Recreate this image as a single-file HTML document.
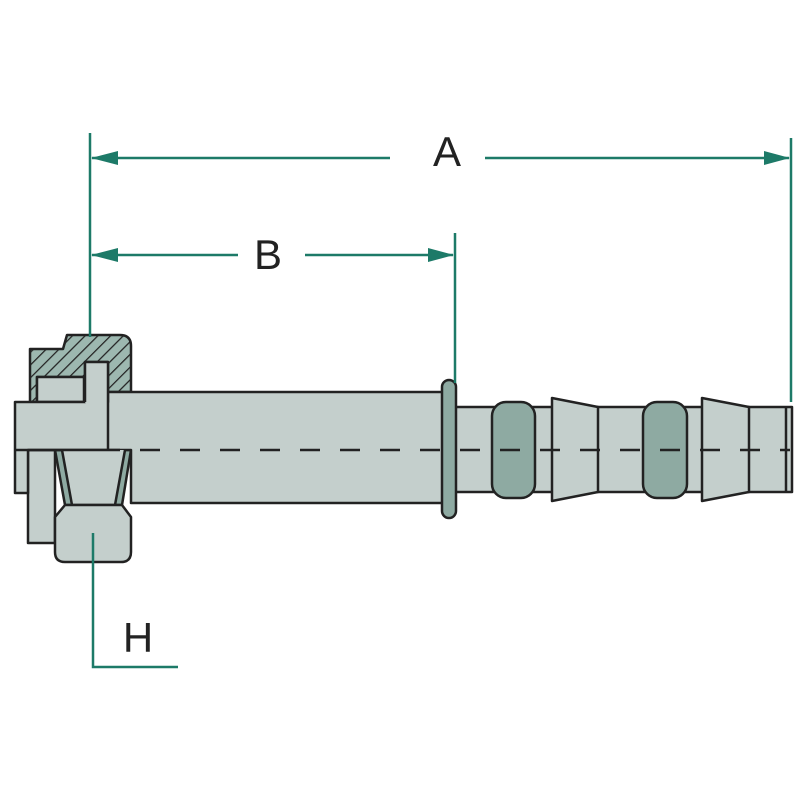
<!DOCTYPE html>
<html><head><meta charset="utf-8"><style>html,body{margin:0;padding:0;background:#fff}svg{display:block}</style></head>
<body>
<svg width="800" height="800" viewBox="0 0 800 800" xmlns="http://www.w3.org/2000/svg">
<defs>
<pattern id="h" width="9" height="9" patternUnits="userSpaceOnUse" patternTransform="rotate(45)">
<rect width="9" height="9" fill="#9db8b0"/><line x1="0" y1="0" x2="0" y2="9" stroke="#222" stroke-width="2.5"/></pattern>
</defs>
<g stroke="#222" stroke-width="2.5" stroke-linejoin="round">
<path d="M30 349 L63 349 L67 335 L120 335 Q131 335 131 346 L131 392 L108 392 L108 362 L85 362 L85 377 L37 377 L37 402 L30 402 Z" fill="url(#h)"/>
<rect x="37" y="377" width="47" height="25" fill="#c4cfcc"/>
<rect x="28" y="450" width="27" height="93" fill="#c4cfcc"/>
<path d="M55 450 L131 450 L122 505 L65 505 Z" fill="#8eaaa2"/>
<path d="M15 402 L108 402 L108 392 L445 392 L445 503 L131 503 L131 450 L28 450 L28 493 L15 493 Z" fill="#c4cfcc"/>
<path d="M62 450 L72 505 L115 505 L125 450" fill="#c4cfcc"/>
<path d="M65 505 L122 505 L131 517 L131 552 Q131 562 121 562 L65 562 Q55 562 55 552 L55 517 Z" fill="#c4cfcc"/>
<path d="M85 402 L85 362 L108 362 L108 450" fill="#c4cfcc"/>
<line x1="15" y1="450" x2="100" y2="450"/>
<rect x="455" y="407" width="337" height="85" fill="#c4cfcc"/>
<rect x="442" y="380" width="14" height="138" rx="7" fill="#8eaaa2"/>
<rect x="492" y="402" width="43" height="96" rx="14" fill="#8eaaa2"/>
<rect x="643" y="402" width="44" height="96" rx="14" fill="#8eaaa2"/>
<path d="M552 398 L598 407 L598 492 L552 501 Z" fill="#c4cfcc"/>
<path d="M702 398 L749 407 L749 492 L702 501 Z" fill="#c4cfcc"/>
<line x1="786" y1="407" x2="786" y2="492"/>
</g>
<line x1="100" y1="450" x2="790" y2="450" stroke="#222" stroke-width="2.5" stroke-dasharray="20,20"/>
<g stroke="#1d7a68" stroke-width="2.5" fill="#1d7a68">
<line x1="90" y1="133" x2="90" y2="337"/>
<line x1="791" y1="138" x2="791" y2="402"/>
<line x1="455" y1="233" x2="455" y2="383"/>
<line x1="92" y1="158" x2="390" y2="158"/>
<line x1="485" y1="158" x2="789" y2="158"/>
<line x1="92" y1="255" x2="238" y2="255"/>
<line x1="305" y1="255" x2="453" y2="255"/>
<path d="M91 158 L118 151 L118 165 Z" stroke="none"/>
<path d="M790 158 L764 151 L764 165 Z" stroke="none"/>
<path d="M91 255 L118 248 L118 262 Z" stroke="none"/>
<path d="M454 255 L428 248 L428 262 Z" stroke="none"/>
<polyline points="93,533 93,667 178,667" fill="none"/>
</g>
<g font-family="Liberation Sans, sans-serif" font-size="42" fill="#222" text-anchor="middle">
<text x="447" y="166">A</text>
<text x="268" y="269">B</text>
<text x="138" y="652">H</text>
</g>
</svg>
</body></html>
